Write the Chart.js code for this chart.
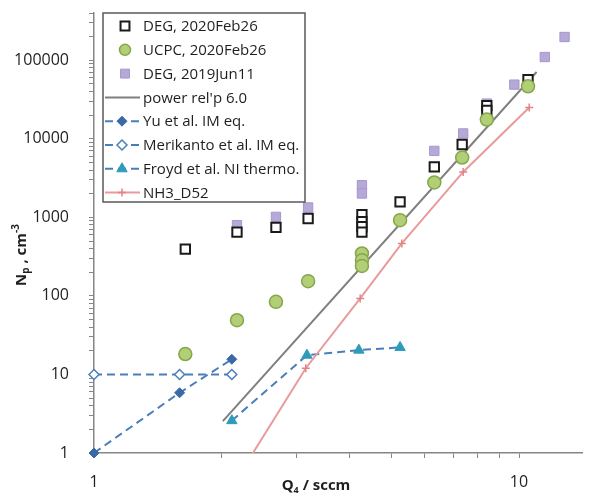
<!DOCTYPE html>
<html>
<head>
<meta charset="utf-8">
<script src="https://cdn.jsdelivr.net/npm/chart.js@4.4.1/dist/chart.umd.min.js"></script>
<style>
  html, body { margin: 0; padding: 0; background: #fff; overflow: hidden; }
  #wrap { width: 591px; height: 493px; position: relative; }
  canvas { display: block; }
</style>
</head>
<body>
<div id="wrap"><canvas id="npChart"></canvas></div>
<script>
// flow Q4 (sccm) vs particle number Np (cm-3), both log
const degFebQ = [1.64, 2.17, 2.68, 3.19, 4.27, 4.27, 4.27, 4.27, 5.25, 6.32, 7.35, 8.4, 8.4, 10.5];
const degFebN = [394, 650, 745, 968, 1080, 880, 760, 650, 1575, 4390, 8460, 26500, 23000, 56800];

const ucpcQ = [1.64, 2.17, 2.68, 3.19, 4.27, 4.27, 4.27, 5.25, 6.32, 7.35, 8.4, 10.5];
const ucpcN = [18.2, 49, 84, 154, 347, 285, 241, 921, 2780, 5780, 17600, 46700];

const degJunQ = [2.17, 2.68, 3.19, 4.27, 4.27, 6.32, 7.39, 8.4, 9.75, 11.5, 12.8];
const degJunN = [795, 1015, 1336, 2570, 2015, 7020, 11700, 28100, 49000, 110000, 198000];

const powerQ = [2.01, 11.0];
const powerN = [2.55, 71000];

const yuQ = [1, 1.59, 2.11];
const yuN = [1, 5.85, 15.6];

const merikantoQ = [1, 1.59, 2.11];
const merikantoN = [10, 10, 10];

const froydQ = [2.11, 3.17, 4.2, 5.25];
const froydN = [2.58, 17.6, 20.4, 22.1];

const nh3Q = [2.11, 3.15, 4.23, 5.3, 7.39, 10.57];
const nh3N = [0.37, 12, 93, 466, 3790, 25000];

const xTickValues = [1, 2, 3, 4, 5, 6, 7, 8, 9, 10];
const xTickLabels = [1, 10];
const yDecades = [1, 10, 100, 1000, 10000, 100000];
const yTickLabels = [1, 10, 100, 1000, 10000, 100000];

const X_MAX = 14.7;
const Y_MAX = 400000;
const X_DECADE_PX = 425;   // width of one x decade in the reference
const axisColor = '#868686';
const textColor = '#1f1f1f';

function pts(xs, ys) {
  return xs.map((x, i) => ({ x: x, y: ys[i] }));
}

function yTickValues() {
  const out = [];
  yDecades.forEach(d => {
    for (let m = 1; m <= 9; m++) {
      if (m * d <= Y_MAX) out.push(m * d);
    }
  });
  return out;
}

function drawMarker(ctx, style, radius, x, y, bw) {
  if (Chart.helpers && Chart.helpers.drawPoint) {
    Chart.helpers.drawPoint(ctx, { pointStyle: style, radius: radius, rotation: 0, borderWidth: bw }, x, y);
  }
}

// legend box sits inside the plot, top-left
const insideLegend = {
  id: 'insideLegend',
  afterDraw(chart) {
    const ctx = chart.ctx;
    const a = chart.chartArea;
    const left = a.left + 9, top = a.top, w = 202, h = 189;
    ctx.save();
    ctx.fillStyle = '#fff';
    ctx.fillRect(left, top, w, h);
    ctx.strokeStyle = '#595959';
    ctx.lineWidth = 1.5;
    ctx.strokeRect(left, top, w, h);
    ctx.font = '15px "Open Sans"';
    ctx.textBaseline = 'middle';
    chart.data.datasets.forEach((ds, i) => {
      const y = top + 13 + i * 23.8;
      if (ds.showLine) {
        ctx.setLineDash(ds.borderDash || []);
        ctx.strokeStyle = ds.borderColor;
        ctx.lineWidth = ds.borderWidth;
        ctx.beginPath();
        ctx.moveTo(left + 2, y);
        ctx.lineTo(left + 37, y);
        ctx.stroke();
        ctx.setLineDash([]);
      }
      if (ds.pointRadius > 0) {
        ctx.fillStyle = ds.pointBackgroundColor;
        ctx.strokeStyle = ds.pointBorderColor;
        ctx.lineWidth = ds.pointBorderWidth;
        drawMarker(ctx, ds.pointStyle, ds.legendRadius || ds.pointRadius,
          ds.showLine ? left + 19 : left + 22, y, ds.pointBorderWidth);
      }
      ctx.fillStyle = textColor;
      ctx.fillText(ds.label, left + 40, y + 1);
    });
    ctx.restore();
  }
};

function drawRich(ctx, parts, cx, cy) {
  let total = 0;
  parts.forEach(p => {
    ctx.font = 'bold ' + p.size + 'px "Open Sans"';
    p.w = ctx.measureText(p.text).width;
    total += p.w;
  });
  let x = cx - total / 2;
  parts.forEach(p => {
    ctx.font = 'bold ' + p.size + 'px "Open Sans"';
    ctx.fillText(p.text, x, cy + p.dy);
    x += p.w;
  });
}

// axis titles with sub/superscripts
const axisTitles = {
  id: 'axisTitles',
  afterDraw(chart) {
    const ctx = chart.ctx;
    ctx.save();
    ctx.fillStyle = textColor;
    ctx.textBaseline = 'middle';
    ctx.textAlign = 'left';
    drawRich(ctx, [
      { text: 'Q', size: 15, dy: 0 },
      { text: '4', size: 9, dy: 4 },
      { text: ' / sccm', size: 15, dy: 0 }
    ], 316, 486);
    ctx.translate(22, 255);
    ctx.rotate(-Math.PI / 2);
    drawRich(ctx, [
      { text: 'N', size: 15, dy: 0 },
      { text: 'p', size: 10, dy: 4 },
      { text: ' , cm', size: 15, dy: 0 },
      { text: '-3', size: 10, dy: -6 }
    ], 0, 0);
    ctx.restore();
  }
};

const lineBlue = '#4a7ebb';

const chart = new Chart(document.getElementById('npChart'), {
  type: 'scatter',
  data: {
    datasets: [
      {
        label: 'DEG, 2020Feb26',
        data: pts(degFebQ, degFebN),
        showLine: false,
        pointStyle: 'rect',
        pointRadius: 6.6,
        legendRadius: 6.3,
        pointBackgroundColor: '#ffffff',
        pointBorderColor: '#1a1a1a',
        pointBorderWidth: 2,
        order: 1
      },
      {
        label: 'UCPC, 2020Feb26',
        data: pts(ucpcQ, ucpcN),
        showLine: false,
        pointStyle: 'circle',
        pointRadius: 6.5,
        legendRadius: 5.5,
        pointBackgroundColor: '#b2cf78',
        pointBorderColor: '#86a64a',
        pointBorderWidth: 1.5,
        order: 0
      },
      {
        label: 'DEG, 2019Jun11',
        data: pts(degJunQ, degJunN),
        showLine: false,
        pointStyle: 'rect',
        pointRadius: 6.6,
        legendRadius: 6.3,
        pointBackgroundColor: '#b6a9d8',
        pointBorderColor: '#a797cc',
        pointBorderWidth: 1,
        order: 2
      },
      {
        label: "power rel'p 6.0",
        data: pts(powerQ, powerN),
        showLine: true,
        borderColor: '#7f7f7f',
        borderWidth: 2,
        pointRadius: 0,
        order: 5
      },
      {
        label: 'Yu et al. IM eq.',
        data: pts(yuQ, yuN),
        showLine: true,
        borderColor: lineBlue,
        borderWidth: 2,
        borderDash: [8, 5],
        pointStyle: 'rectRot',
        pointRadius: 5,
        pointBackgroundColor: '#3b69a8',
        pointBorderColor: '#3b69a8',
        pointBorderWidth: 1,
        clip: false,
        order: 4
      },
      {
        label: 'Merikanto et al. IM eq.',
        data: pts(merikantoQ, merikantoN),
        showLine: true,
        borderColor: lineBlue,
        borderWidth: 2,
        borderDash: [8, 5],
        pointStyle: 'rectRot',
        pointRadius: 5,
        pointBackgroundColor: '#ffffff',
        pointBorderColor: lineBlue,
        pointBorderWidth: 1.5,
        clip: false,
        order: 4
      },
      {
        label: 'Froyd et al. NI thermo.',
        data: pts(froydQ, froydN),
        showLine: true,
        borderColor: lineBlue,
        borderWidth: 2,
        borderDash: [8, 5],
        pointStyle: 'triangle',
        pointRadius: 6,
        pointBackgroundColor: '#2f9bbb',
        pointBorderColor: '#2f9bbb',
        pointBorderWidth: 1,
        order: 4
      },
      {
        label: 'NH3_D52',
        data: pts(nh3Q, nh3N),
        showLine: true,
        borderColor: '#e99a9b',
        borderWidth: 2,
        pointStyle: 'cross',
        pointRadius: 4,
        pointBackgroundColor: '#e08586',
        pointBorderColor: '#e08586',
        pointBorderWidth: 1.5,
        order: 3
      }
    ]
  },
  options: {
    responsive: true,
    maintainAspectRatio: false,
    animation: false,
    layout: { padding: { top: 13, right: 1, left: 0, bottom: 0 } },
    plugins: {
      legend: { display: false },
      tooltip: { enabled: false }
    },
    scales: {
      x: {
        type: 'logarithmic',
        min: 1,
        max: X_MAX,
        // extra empty tick at the end so the "10" label adds no right padding
        afterBuildTicks: (s) => { s.ticks = xTickValues.concat([s.max]).map(v => ({ value: v })); },
        afterFit: (s) => { s.height = 40; s.paddingLeft = 0; s.paddingRight = 0; },
        border: { color: axisColor, width: 1.5 },
        grid: {
          drawOnChartArea: false, drawTicks: true, tickLength: 5,
          color: (c) => (c.tick && c.tick.value > 10 ? 'rgba(0,0,0,0)' : axisColor)
        },
        ticks: {
          autoSkip: false,
          maxRotation: 0,
          padding: 15,
          color: textColor,
          font: { size: 16, family: 'Open Sans' },
          callback: (v) => (xTickLabels.includes(v) ? String(v) : '')
        }
      },
      y: {
        type: 'logarithmic',
        min: 1,
        max: Y_MAX,
        afterBuildTicks: (s) => { s.ticks = yTickValues().map(v => ({ value: v })); },
        afterFit: (s) => { s.width = 94; s.paddingTop = 0; s.paddingBottom = 0; },
        border: { color: axisColor, width: 1.5 },
        grid: { drawOnChartArea: false, drawTicks: true, tickLength: 5, color: axisColor },
        ticks: {
          autoSkip: false,
          padding: 20,
          color: textColor,
          font: { size: 16, family: 'Open Sans' },
          callback: (v) => (yTickLabels.includes(v) ? String(v) : '')
        }
      }
    }
  },
  plugins: [insideLegend, axisTitles]
});

// keep 1 -> 10 at the reference decade width whatever width the layout left us
const xs = chart.scales.x;
if (xs && xs.right > xs.left) {
  const fittedMax = Math.pow(10, (xs.right - xs.left) / X_DECADE_PX);
  if (Math.abs(fittedMax - X_MAX) > 0.05) {
    chart.options.scales.x.max = fittedMax;
    chart.update();
  }
}
</script>
</body>
</html>
